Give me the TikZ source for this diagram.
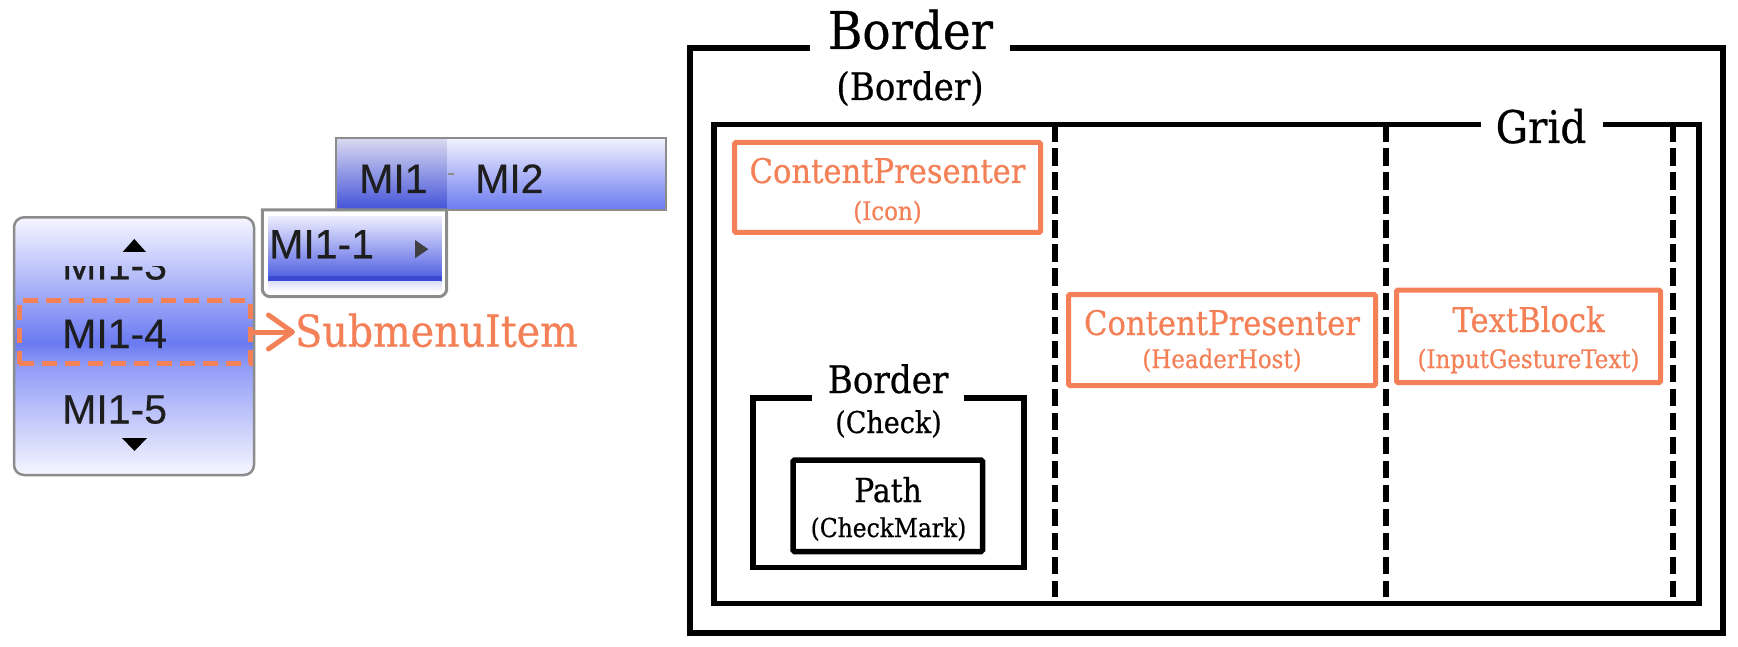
\documentclass[tikz,border=0pt]{standalone}
\usepackage{fontspec}
\newfontfamily\dser{DejaVu Serif}[FakeStretch=0.9, FakeBold=0.6]
\newfontfamily\uis{Liberation Sans}[FakeBold=0.4]
\usetikzlibrary{arrows.meta}
\definecolor{orgc}{RGB}{244,128,88}
\definecolor{mgray}{RGB}{140,140,140}
\definecolor{uitext}{RGB}{30,30,30}
\definecolor{mtop}{RGB}{246,246,255}
\definecolor{mmid}{RGB}{155,165,247}
\definecolor{mdeep}{RGB}{106,122,240}
\definecolor{mmidb}{RGB}{145,156,246}
\definecolor{barAtop}{RGB}{218,218,240}
\definecolor{barAbot}{RGB}{66,82,216}
\definecolor{barBtop}{RGB}{242,242,255}
\definecolor{barBbot}{RGB}{106,122,240}
\definecolor{hltop}{RGB}{236,236,255}
\definecolor{hlbot}{RGB}{84,100,226}
\definecolor{hlstrip}{RGB}{58,74,208}
\newcommand\myfs[1]{\fontsize{#1}{#1}\selectfont}
\tikzset{
  frame/.style={draw=black, line width=5.5},
  colline/.style={draw=black, line width=5.5, dash pattern=on 17.5 off 6.5},
  obox/.style={draw=orgc, line width=5, rounded corners=1.5, inner sep=0},
  pbox/.style={draw=black, line width=5.5, rounded corners=1.5, inner sep=0},
  lbl/.style={inner sep=0, anchor=base},
  otxt/.style={lbl, text=orgc},
  uitxt/.style={inner sep=0, anchor=base west, text=uitext, font=\uis\myfs{41}},
  uiframe/.style={draw=mgray, line width=2.5},
}
\begin{document}
\begin{tikzpicture}[x=1pt,y=-1pt]
\useasboundingbox (0,0) rectangle (1738,647);

% ---------------- left: menu screenshot ----------------
% top menu bar
\fill[top color=barAtop, bottom color=barAbot] (336,138) rectangle (447,210);
\fill[top color=barBtop, bottom color=barBbot] (447,138) rectangle (666,210);
\node[uiframe, inner sep=0, minimum width=330, minimum height=72] (bar) at (501,174) {};
\fill[mgray] (448,173) rectangle (454,175.5);
\node[uitxt] (mi1) at (359,193) {MI1};
\node[uitxt] (mi2) at (475,193) {MI2};

% popup MI1-1
\fill[white, rounded corners=8] (262.3,210) -- (262.3,296.7) -- (446.7,296.7) -- (446.7,210) -- cycle;
\fill[top color=hltop, bottom color=hlbot] (268,216.7) rectangle (441.7,276);
\fill[hlstrip] (268,276) rectangle (441.7,281.7);
\fill[top color=hltop!80!mmid, bottom color=white] (268,281.7) rectangle (441.7,292);
\draw[draw=mgray, line width=3] (262.3,210) [rounded corners=8] -- (262.3,296.7) -- (446.7,296.7) [sharp corners] -- (446.7,210) -- cycle;
\node[uitxt] (mi11) at (269,258.3) {MI1-1};
\fill[black!75] (415,240) -- (428.3,249.2) -- (415,258.3) -- cycle;

% scrolling submenu box
\begin{scope}
  \clip[rounded corners=10] (14,217.3) rectangle (254,475);
  \fill[top color=mtop, bottom color=mmid] (14,217) rectangle (254,300.5);
  \fill[top color=mmid, bottom color=mdeep] (14,300.5) rectangle (254,343);
  \fill[top color=mdeep, bottom color=mmidb] (14,343) rectangle (254,366);
  \fill[top color=mmidb, bottom color=mtop] (14,366) rectangle (254,475);
\end{scope}
\node[uiframe, rounded corners=10, inner sep=0, minimum width=240, minimum height=257.7] (subbox) at (134,346.15) {};
\fill[black] (122.7,252) -- (134.3,239) -- (146,252) -- cycle;
\fill[black] (122,438) -- (147,438) -- (134.5,451) -- cycle;
\begin{scope}
  \clip (14,266.5) rectangle (254,290);
  \node[uitxt] (mi13) at (62,279.5) {MI1-3};
\end{scope}
\node[uitxt] (mi14) at (62,348) {MI1-4};
\node[uitxt] (mi15) at (62,423.5) {MI1-5};

% selection marker and label
\node[draw=orgc, line width=5, dash pattern=on 15 off 8, inner sep=0,
      minimum width=231, minimum height=63] (sel) at (134.5,332) {};
\node[otxt, anchor=base west, font=\dser\myfs{44}] (subtxt) at (295,346.7) {SubmenuItem};
\draw[draw=orgc, line width=5, line cap=round,
      -{Straight Barb[length=24, width=34, line width=5, round]}]
      (sel.east) -- (sel.east -| subtxt.west);

% ---------------- right: template structure ----------------
% outer Border
\coordinate (ob1) at (810,48);
\coordinate (ob2) at (1010,48);
\draw[frame] (ob1) -- (690,48) -- (690,633) -- (1723,633) -- (1723,48) -- (ob2);
\node[lbl, font=\dser\myfs{52}] (bordert) at (910.5,49) {Border};
\node[lbl, font=\dser\myfs{38}] (bordern) at (910,100) {(Border)};

% Grid
\coordinate (g1) at (1481,124.5);
\coordinate (g2) at (1603,124.5);
\draw[frame] (g1) -- (714,124.5) -- (714,603.5) -- (1699,603.5) -- (1699,124.5) -- (g2);
\node[lbl, font=\dser\myfs{45}] (gridt) at (1541,143) {Grid};

% column separators
\coordinate (c1t) at (1055,124.5); \coordinate (c1b) at (1055,597);
\coordinate (c2t) at (1386,124.5); \coordinate (c2b) at (1386,597);
\coordinate (c3t) at (1673,124.5); \coordinate (c3b) at (1673,597);
\draw[colline] (c1t) -- (c1b);
\draw[colline] (c2t) -- (c2b);
\draw[colline] (c3t) -- (c3b);

% ContentPresenter (Icon)
\node[obox, minimum width=306, minimum height=90] (icon) at (887.5,187.5) {};
\node[otxt, font=\dser\myfs{34}] (icont) at (887.5,183) {ContentPresenter};
\node[otxt, font=\dser\myfs{25.5}] (iconn) at (887.5,220) {(Icon)};

% ContentPresenter (HeaderHost)
\node[obox, minimum width=307, minimum height=91] (hh) at (1222,340) {};
\node[otxt, font=\dser\myfs{34}] (hht) at (1222,335) {ContentPresenter};
\node[otxt, font=\dser\myfs{25.5}] (hhn) at (1222,368) {(HeaderHost)};

% TextBlock (InputGestureText)
\node[obox, minimum width=264, minimum height=92.5] (tb) at (1528.5,336.25) {};
\node[otxt, font=\dser\myfs{34}] (tbt) at (1528.5,332) {TextBlock};
\node[otxt, font=\dser\myfs{25.5}] (tbn) at (1528.5,368) {(InputGestureText)};

% Border (Check)
\coordinate (cb1) at (811.7,398);
\coordinate (cb2) at (964,398);
\draw[frame] (cb1) -- (753,398) -- (753,567.5) -- (1024,567.5) -- (1024,398) -- (cb2);
\node[lbl, font=\dser\myfs{38}] (checkt) at (888,393) {Border};
\node[lbl, font=\dser\myfs{30}] (checkn) at (888.5,433) {(Check)};

% Path (CheckMark)
\node[pbox, minimum width=189.5, minimum height=91.5] (path) at (887.75,505.75) {};
\node[lbl, font=\dser\myfs{33}] (patht) at (888,502) {Path};
\node[lbl, font=\dser\myfs{26}] (pathn) at (888.5,537) {(CheckMark)};
\end{tikzpicture}
\end{document}
